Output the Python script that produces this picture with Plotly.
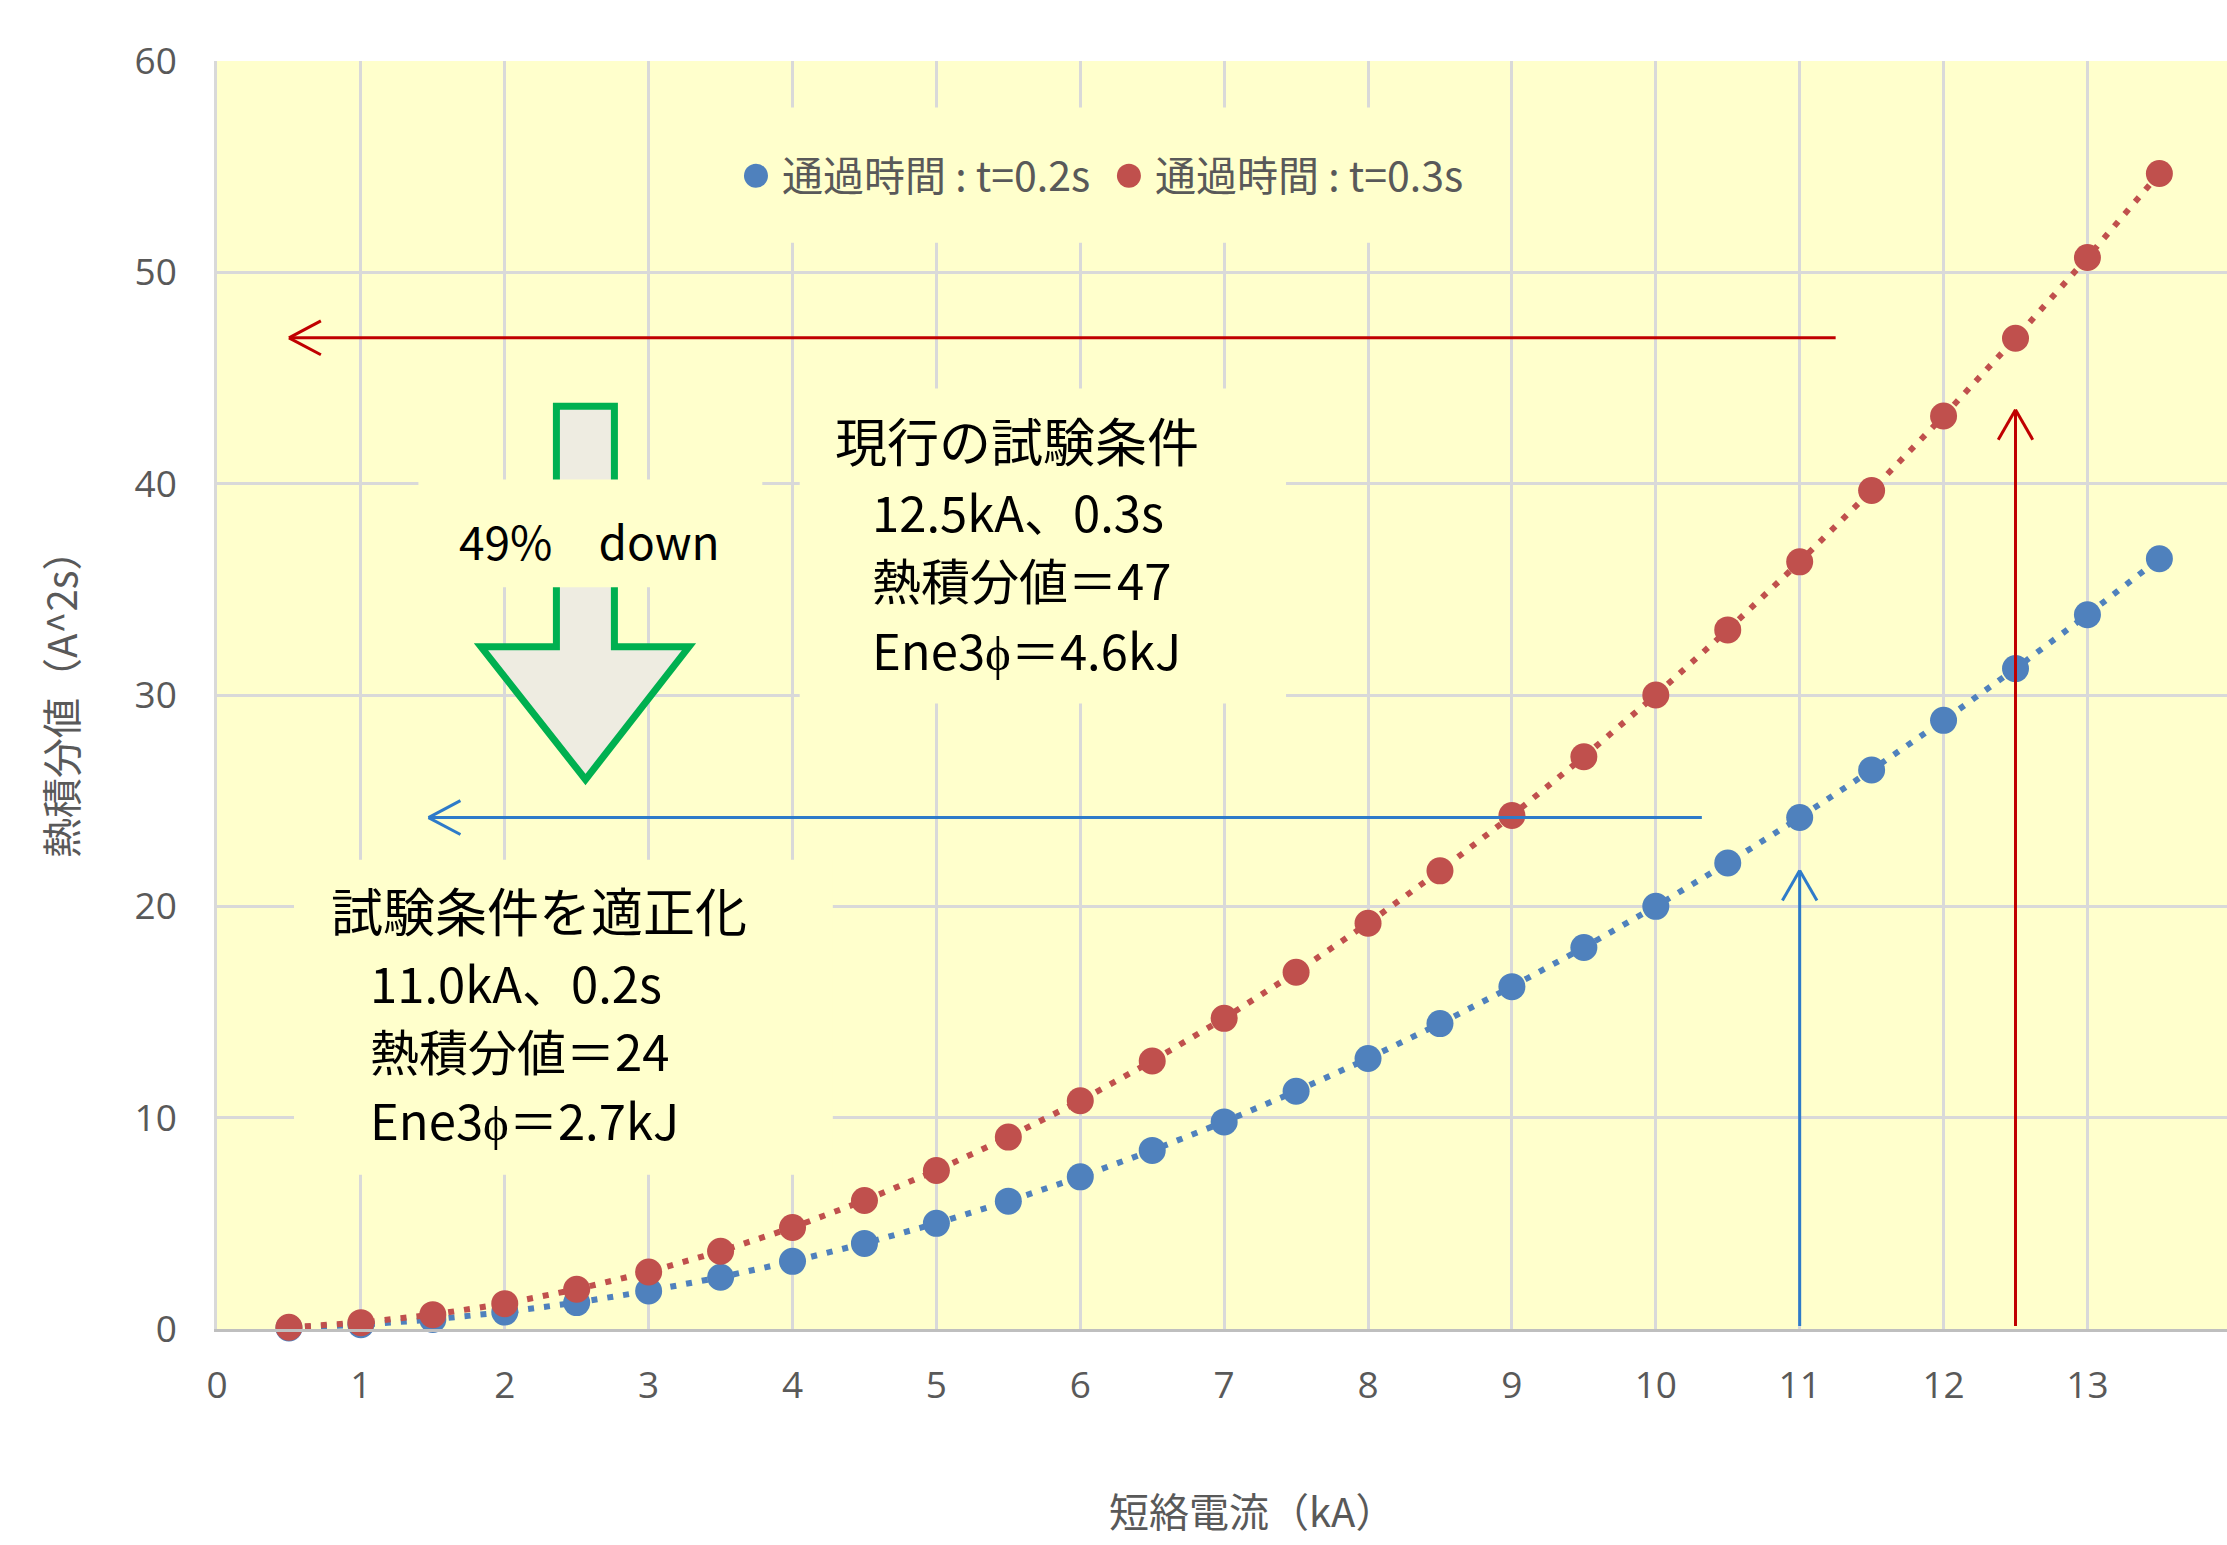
import plotly.graph_objects as go

# Short-circuit current (kA) and Joule-integral values for two clearing times
current_ka = [0.5, 1, 1.5, 2, 2.5, 3, 3.5, 4, 4.5, 5, 5.5, 6, 6.5, 7, 7.5,
              8, 8.5, 9, 9.5, 10, 10.5, 11, 11.5, 12, 12.5, 13, 13.5]
heat_t02 = [0.05, 0.2, 0.45, 0.8, 1.25, 1.8, 2.45, 3.2, 4.05, 5.0, 6.05, 7.2,
            8.45, 9.8, 11.25, 12.8, 14.45, 16.2, 18.05, 20.0, 22.05, 24.2,
            26.45, 28.8, 31.25, 33.8, 36.45]
heat_t03 = [0.08, 0.3, 0.68, 1.2, 1.88, 2.7, 3.68, 4.8, 6.08, 7.5, 9.08, 10.8,
            12.68, 14.7, 16.88, 19.2, 21.68, 24.3, 27.08, 30.0, 33.08, 36.3,
            39.68, 43.2, 46.88, 50.7, 54.68]
series_names = ["通過時間 : t=0.2s", "通過時間 : t=0.3s"]
series_colors = ["#4F81BD", "#C0504D"]

x_ticks = list(range(0, 14))
y_ticks = list(range(0, 70, 10))

# Callout arrows: (x0, y0) tail -> (x1, y1) head, in data units
red_arrows = [(11.25, 46.9, 0.5, 46.9), (12.5, 0.14, 12.5, 43.5)]
blue_arrows = [(10.32, 24.2, 1.47, 24.2), (11.0, 0.14, 11.0, 21.7)]

# Block "down" arrow outline (data units)
down_arrow_x = [2.359, 2.762, 2.762, 3.280, 2.561, 1.835, 2.359]
down_arrow_y = [43.66, 43.66, 32.28, 32.28, 26.0, 32.28, 32.28]

current_lines = ["現行の試験条件", "12.5kA、0.3s", "熱積分値＝47", "Ene3ϕ＝4.6kJ"]
proposed_lines = ["試験条件を適正化", "11.0kA、0.2s", "熱積分値＝24", "Ene3ϕ＝2.7kJ"]
reduction_label = "49%\u3000down"

PLOT_BG = "#FFFFCC"
GRID = "#D9D9D9"
TEXT_GRAY = "#595959"
FONT = "Noto Sans CJK JP"
TICK_FONT = "Open Sans, Noto Sans CJK JP"

fig = go.Figure()

for ys, name, color in zip([heat_t02, heat_t03], series_names, series_colors):
    fig.add_trace(go.Scatter(
        x=current_ka, y=ys, name=name, mode="lines+markers",
        line=dict(color=color, width=6, dash="6px,10px"),
        marker=dict(color=color, size=27),
        showlegend=False, cliponaxis=False,
    ))

shapes = []


def cover(x0, x1, y0, y1):
    # plain box in the plot colour that hides the grid behind a label
    return dict(type="rect", xref="x", yref="y", x0=x0, x1=x1, y0=y0, y1=y1,
                fillcolor=PLOT_BG, line=dict(width=0), layer="between")


# label boxes and block arrow sit between the grid and the data
shapes.append(cover(3.52, 8.76, 51.4, 57.8))
shapes.append(cover(4.05, 7.43, 29.6, 44.5))
shapes.append(cover(0.535, 4.28, 7.3, 22.2))
path = "M " + " L ".join(f"{x},{y}" for x, y in zip(down_arrow_x, down_arrow_y)) + " Z"
shapes.append(dict(type="path", xref="x", yref="y", path=path,
                   fillcolor="#EEECE1", line=dict(color="#00B050", width=7),
                   layer="between"))
shapes.append(cover(1.40, 3.79, 35.1, 40.2))


def arrow(x0, y0, x1, y1, color):
    segs = [dict(type="line", xref="x", yref="y", x0=x0, y0=y0, x1=x1, y1=y1,
                 line=dict(color=color, width=3), layer="above")]
    if y0 == y1:
        sx = 0.222 if x1 < x0 else -0.222
        for dy in (0.8, -0.8):
            segs.append(dict(type="line", xref="x", yref="y", x0=x1, y0=y1,
                             x1=x1 + sx, y1=y1 + dy,
                             line=dict(color=color, width=3), layer="above"))
    else:
        sy = -1.42 if y1 > y0 else 1.42
        for dx in (0.12, -0.12):
            segs.append(dict(type="line", xref="x", yref="y", x0=x1, y0=y1,
                             x1=x1 + dx, y1=y1 + sy,
                             line=dict(color=color, width=3), layer="above"))
    return segs


for a in red_arrows:
    shapes += arrow(*a, "#C00000")
for a in blue_arrows:
    shapes += arrow(*a, "#2E7BC9")

# legend swatches
legend_x = [3.746, 6.338]
for lx, color in zip(legend_x, series_colors):
    shapes.append(dict(type="circle", xref="x", yref="y", xsizemode="pixel",
                       ysizemode="pixel", xanchor=lx, yanchor=54.57,
                       x0=-12, x1=12, y0=-12, y1=12, fillcolor=color,
                       line=dict(width=0), layer="above"))

annotations = []
for lx, name in zip(legend_x, series_names):
    annotations.append(dict(x=lx + 0.17, y=54.72, xref="x", yref="y", text=name,
                            showarrow=False, xanchor="left", yanchor="middle",
                            font=dict(family=FONT, size=41, color=TEXT_GRAY)))


def block(lines, x_title, x_body, ys):
    out = []
    for i, (txt, y) in enumerate(zip(lines, ys)):
        out.append(dict(x=x_title if i == 0 else x_body, y=y, xref="x", yref="y",
                        text=txt, showarrow=False, xanchor="left",
                        yanchor="middle",
                        font=dict(family=FONT, size=52 if i == 0 else 49,
                                  color="#000000")))
    return out


annotations += block(current_lines, 4.28, 4.538, [42.1, 38.72, 35.52, 32.22])
annotations += block(proposed_lines, 0.78, 1.049, [19.85, 16.45, 13.22, 9.95])
annotations.append(dict(x=2.592, y=37.34, xref="x", yref="y", text=reduction_label,
                        showarrow=False, xanchor="center", yanchor="middle",
                        font=dict(family=FONT, size=46, color="#000000")))

# axis titles
annotations.append(dict(x=-0.0781, y=0.5, xref="paper", yref="paper",
                        text="熱積分値（A^2s）", textangle=-90, showarrow=False,
                        xanchor="center", yanchor="middle",
                        font=dict(family=FONT, size=40, color=TEXT_GRAY)))
annotations.append(dict(x=0.515, y=-0.143, xref="paper", yref="paper",
                        text="短絡電流（kA）", showarrow=False,
                        xanchor="center", yanchor="middle",
                        font=dict(family=FONT, size=40, color=TEXT_GRAY)))

fig.update_layout(
    width=2227, height=1545,
    margin=dict(l=217, r=0, t=61, b=216),
    paper_bgcolor="#FFFFFF", plot_bgcolor=PLOT_BG,
    shapes=shapes, annotations=annotations, showlegend=False,
)
fig.update_xaxes(range=[0, 13.97], tickvals=x_ticks, showgrid=True,
                 gridcolor=GRID, gridwidth=2.5, zeroline=False,
                 showline=True, linecolor="#BFBFBF", linewidth=3,
                 ticks="", ticklabelstandoff=22,
                 tickfont=dict(family=TICK_FONT, size=37, color=TEXT_GRAY))
fig.update_yaxes(range=[0, 60], tickvals=y_ticks, showgrid=True,
                 gridcolor=GRID, gridwidth=2.5, zeroline=False,
                 showline=True, linecolor=GRID, linewidth=2.5,
                 ticks="", ticklabelstandoff=30,
                 tickfont=dict(family=TICK_FONT, size=37, color=TEXT_GRAY))

fig.write_html("out.html")
